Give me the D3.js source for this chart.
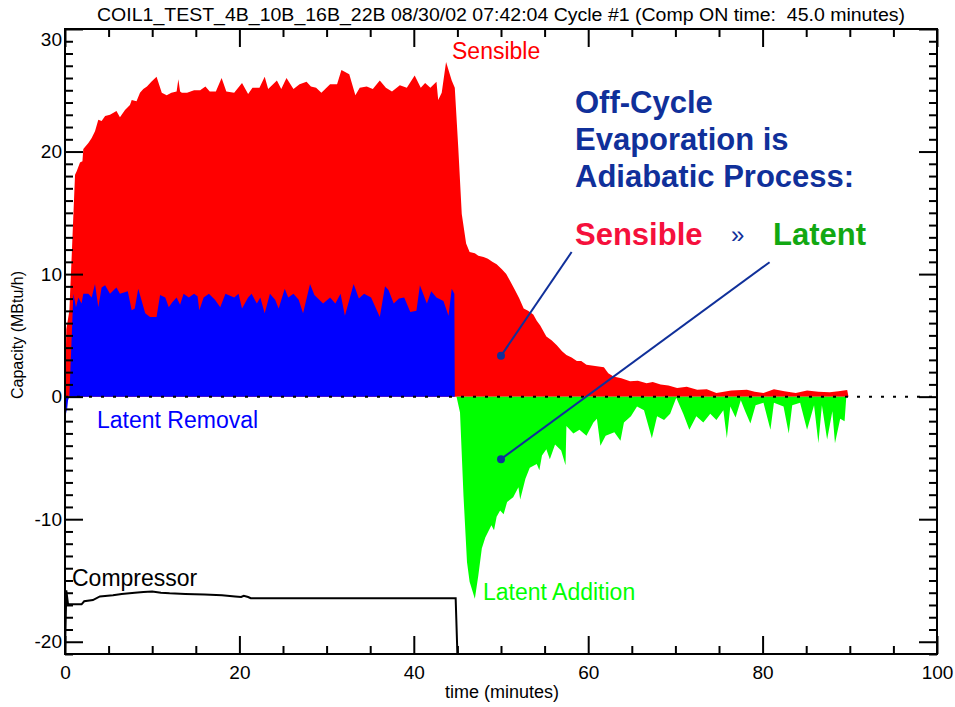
<!DOCTYPE html>
<html><head><meta charset="utf-8">
<script src="https://cdn.jsdelivr.net/npm/d3@7"></script>
<style>
html,body{margin:0;padding:0;background:#fff;}
svg{display:block;}
text{font-family:"Liberation Sans",Arial,Helvetica,sans-serif;white-space:pre;}
</style></head>
<body>
<svg id="chart" width="955" height="707"></svg>
<script>
// ---------- data ----------
const titleText = "COIL1_TEST_4B_10B_16B_22B 08/30/02 07:42:04 Cycle #1 (Comp ON time:  45.0 minutes)";
const xTicks = [0, 20, 40, 60, 80, 100];
const yTicks = [-20, -10, 0, 10, 20, 30];

// top of red area (sensible / total capacity), [minutes, MBtu/h]
const sensible = [[0,0],[0.15,5.5],[0.5,7.0],[0.8,12],[1.15,18.1],[1.34,18.4],[1.72,19.1],[2.0,19.2],[2.1,20.2],[2.68,20.7],[3.06,21.1],[3.44,21.65],[3.82,22.6],[4.2,22.5],[4.6,22.9],[5.16,23.0],[5.9,23.3],[6.3,22.8],[6.88,23.4],[7.45,23.8],[7.65,24.2],[8.2,24.1],[8.6,24.8],[8.98,25.1],[9.4,25.3],[9.9,25.7],[10.5,26.1],[11.1,24.8],[11.66,24.6],[12.2,24.8],[12.8,24.9],[13.0,25.9],[13.2,24.9],[13.4,24.8],[14.0,24.8],[14.8,25.0],[15.5,25.0],[16.1,25.3],[16.6,24.9],[17.3,24.9],[17.96,26.0],[18.5,24.9],[19.4,24.8],[20.3,25.6],[21.0,24.7],[21.5,25.2],[22.3,25.2],[22.9,26.1],[23.3,25.1],[24.3,25.8],[24.8,25.1],[25.4,26.0],[26.2,25.1],[26.9,25.5],[27.7,25.7],[28.2,25.3],[28.8,25.2],[29.4,24.8],[30.4,25.5],[31.2,25.5],[31.7,26.65],[32.6,26.3],[33.3,24.6],[33.8,25.2],[34.6,25.3],[35.3,25.1],[36.1,25.8],[36.8,25.2],[37.5,24.9],[38.4,25.4],[39.2,25.2],[40.1,26.2],[40.8,25.2],[41.3,25.6],[41.9,25.2],[42.6,25.7],[42.8,24.2],[43.2,24.8],[43.7,27.3],[44.35,25.8],[44.7,25.2],[45.1,20.3],[45.5,14.9],[46.0,12.5],[46.4,11.8],[47.0,11.7],[47.4,11.5],[48.0,11.4],[48.5,11.25],[49.0,11.0],[49.5,10.8],[50.1,10.4],[50.6,10.0],[51.0,9.5],[51.6,8.7],[52.1,8.0],[52.6,7.2],[53.1,7.0],[53.7,6.7],[54.1,6.2],[54.5,5.8],[55.2,4.9],[55.8,4.6],[56.4,4.2],[57.0,3.7],[57.5,3.4],[58.1,3.2],[58.7,2.9],[59.2,2.9],[59.8,2.6],[60.8,2.5],[61.8,2.4],[62.3,1.9],[62.9,1.65],[63.8,1.5],[64.8,1.25],[65.7,1.3],[66.7,1.1],[67.4,1.2],[68.3,1.0],[69.2,0.9],[70.2,0.7],[71.3,0.8],[72.5,0.57],[73.6,0.6],[74.7,0.3],[76.4,0.5],[78.2,0.57],[79.1,0.4],[80.1,0.3],[81.3,0.6],[82.5,0.45],[83.8,0.3],[85.1,0.5],[86.4,0.4],[87.7,0.35],[88.7,0.45],[89.7,0.55],[89.85,0]];

// latent removal while compressor ON (blue)
const latentOn = [[0,0],[0.19,-1.4],[0.35,-0.3],[0.5,0],[0.96,8.4],[1.26,7.3],[1.53,8.1],[1.9,7.6],[2.1,8.4],[2.68,8.4],[3.06,8.1],[3.44,9.2],[3.82,7.3],[4.2,8.9],[4.6,9.1],[5.16,8.4],[5.9,8.9],[6.3,8.4],[7.2,8.6],[7.65,7.05],[8.0,7.2],[8.4,8.8],[8.8,7.8],[9.2,6.8],[9.75,6.5],[10.5,6.5],[10.9,8.3],[11.5,8.1],[11.9,7.3],[12.3,7.7],[12.8,8.1],[13.2,7.5],[13.6,8.4],[14.2,8.1],[14.8,8.4],[15.2,8.2],[15.4,7.05],[15.9,8.1],[16.5,8.4],[17.2,7.9],[17.8,7.3],[18.4,8.4],[19.4,8.1],[19.9,8.4],[20.3,7.2],[21.0,8.1],[21.4,8.4],[22.0,7.6],[22.4,8.1],[22.9,6.8],[23.5,8.4],[24.1,7.9],[24.5,7.2],[25.2,8.8],[25.6,8.1],[26.2,8.4],[26.8,7.9],[27.3,6.8],[28.1,9.2],[28.6,8.3],[29.6,7.6],[30.4,8.1],[31.0,7.6],[31.6,8.4],[32.1,6.6],[33.1,9.2],[33.7,8.0],[34.3,8.4],[35.1,8.1],[35.6,7.3],[36.1,6.5],[36.7,9.0],[37.1,8.7],[37.7,7.6],[38.3,8.0],[38.9,8.1],[39.6,6.9],[40.3,7.0],[40.7,9.1],[41.5,7.6],[42.0,8.6],[42.6,8.1],[43.4,7.8],[43.98,6.6],[44.35,8.8],[44.65,8.4],[44.7,0]];

// latent addition while compressor OFF (green)
const latentOff = [[44.9,0],[45.3,-1.3],[45.7,-8.1],[46.1,-13.5],[46.4,-15.1],[47.0,-16.5],[47.4,-14.6],[47.8,-12.4],[48.2,-11.5],[48.9,-10.5],[49.2,-10.9],[49.5,-9.8],[49.9,-9.3],[50.3,-9.6],[50.7,-8.6],[51.4,-8.2],[52.0,-7.4],[52.2,-8.4],[52.8,-6.7],[53.3,-5.8],[54.1,-5.5],[54.4,-6.0],[54.7,-4.8],[55.2,-4.3],[55.6,-5.1],[56.2,-3.9],[56.9,-4.4],[57.4,-5.6],[57.5,-2.4],[58.3,-3.0],[59.0,-2.7],[59.8,-3.2],[60.6,-2.1],[61.0,-1.8],[61.4,-4.0],[62.0,-3.2],[63.0,-2.9],[63.7,-3.6],[64.1,-2.1],[64.9,-1.6],[65.6,-0.8],[66.4,-1.1],[67.3,-3.4],[67.9,-1.6],[68.7,-1.9],[69.4,-1.4],[70.1,-0.1],[70.9,-1.4],[71.6,-2.7],[72.4,-1.6],[73.2,-2.1],[74.0,-1.4],[74.7,-1.9],[75.5,-1.1],[75.9,-3.4],[76.3,-0.8],[76.9,-1.7],[77.5,-0.3],[78.0,-1.2],[78.6,-2.2],[79.2,-0.7],[80.1,-0.5],[80.9,-2.7],[81.3,-0.5],[82.4,-0.8],[83.0,-3.0],[83.4,-0.7],[84.3,-0.5],[85.1,-2.7],[85.9,-0.7],[86.4,-3.8],[86.8,-0.7],[87.4,-3.5],[88.0,-1.2],[88.3,-3.8],[88.9,-1.8],[89.4,-2.0],[89.6,0]];

// compressor trace (offset signal)
const compressor = [[0,-21],[0.15,-15.8],[0.35,-16.95],[1.9,-16.95],[2.2,-16.7],[3.2,-16.6],[4.0,-16.3],[5.5,-16.2],[6.5,-16.1],[8.0,-16.0],[9.0,-15.95],[10.0,-15.9],[11.0,-16.0],[12.0,-16.05],[13.8,-16.1],[16.0,-16.15],[18.0,-16.2],[19.5,-16.3],[20.2,-16.35],[20.5,-16.25],[21.0,-16.35],[21.3,-16.45],[44.8,-16.45],[45.0,-21]];

// annotation leader lines: [from, to-dot]
const leaders = [[[58.1,11.8],[50,3.33]], [[80.8,10.97],[50,-5.1]]];

// ---------- chart ----------
const svg = d3.select("#chart");
const x = d3.scaleLinear().domain([0,100]).range([65,937]);
const y = d3.scaleLinear().domain([-21,30]).range([654,29]);
const fmt = d => String(d);

const area = d3.area().x(d=>x(d[0])).y0(y(0)).y1(d=>y(d[1])).curve(d3.curveLinear);
svg.append("path").datum(sensible).attr("d",area).attr("fill","#ff0000");
svg.append("path").datum(latentOn).attr("d",area).attr("fill","#0000ff");
svg.append("path").datum(latentOff).attr("d",area).attr("fill","#00ff00");

// zero dotted line
svg.append("line").attr("x1",x(0)).attr("x2",x(100)).attr("y1",y(0)).attr("y2",y(0))
  .attr("stroke","#000").attr("stroke-width",2).attr("stroke-dasharray","3,9");

// compressor line
const line = d3.line().x(d=>x(d[0])).y(d=>y(d[1]));
svg.append("path").datum(compressor).attr("d",line).attr("fill","none").attr("stroke","#000").attr("stroke-width",2);

// leader lines
const navy = "#10309a";
leaders.forEach(l=>{
  svg.append("line").attr("x1",x(l[0][0])).attr("y1",y(l[0][1])).attr("x2",x(l[1][0])).attr("y2",y(l[1][1]))
    .attr("stroke",navy).attr("stroke-width",2);
  svg.append("circle").attr("cx",x(l[1][0])).attr("cy",y(l[1][1])).attr("r",4).attr("fill",navy);
});

// axes
function noDomain(g){ g.select(".domain").remove(); g.selectAll("line").attr("stroke","#000").attr("stroke-width",2); }
const minorX = d3.range(0,101,5).filter(v=>v%20!==0);
const minorY = d3.range(-21,31,1).filter(v=>v%10!==0);

svg.append("g").attr("transform",`translate(0,${y(-21)})`)
  .call(d3.axisBottom(x).tickValues(xTicks).tickSize(-18).tickPadding(8).tickFormat(fmt))
  .call(noDomain)
  .call(g=>g.selectAll("text").attr("font-size",19).attr("fill","#000").attr("dy","0.9em").attr("font-family","Liberation Sans, Arial, sans-serif"));
svg.append("g").attr("transform",`translate(0,${y(-21)})`)
  .call(d3.axisBottom(x).tickValues(minorX).tickSize(-8).tickFormat("")).call(noDomain);
svg.append("g").attr("transform",`translate(0,${y(30)})`)
  .call(d3.axisTop(x).tickValues(xTicks).tickSize(-18).tickFormat("")).call(noDomain);
svg.append("g").attr("transform",`translate(0,${y(30)})`)
  .call(d3.axisTop(x).tickValues(minorX).tickSize(-8).tickFormat("")).call(noDomain);

svg.append("g").attr("transform",`translate(${x(0)},0)`)
  .call(d3.axisLeft(y).tickValues(yTicks).tickSize(-18).tickPadding(3).tickFormat(fmt))
  .call(noDomain)
  .call(g=>g.selectAll("text").attr("font-size",19).attr("fill","#000").attr("font-family","Liberation Sans, Arial, sans-serif")
    .attr("dy",d=>d===30?"0.85em":"0.32em"));
svg.append("g").attr("transform",`translate(${x(0)},0)`)
  .call(d3.axisLeft(y).tickValues(minorY).tickSize(-8).tickFormat("")).call(noDomain);
svg.append("g").attr("transform",`translate(${x(100)},0)`)
  .call(d3.axisRight(y).tickValues(yTicks).tickSize(-18).tickFormat("")).call(noDomain);
svg.append("g").attr("transform",`translate(${x(100)},0)`)
  .call(d3.axisRight(y).tickValues(minorY).tickSize(-8).tickFormat("")).call(noDomain);

// frame
svg.append("rect").attr("x",x(0)).attr("y",y(30)).attr("width",x(100)-x(0)).attr("height",y(-21)-y(30))
  .attr("fill","none").attr("stroke","#000").attr("stroke-width",2);

// titles
svg.append("text").attr("x",501).attr("y",21).attr("text-anchor","middle").attr("font-size",18)
  .attr("textLength",808).attr("lengthAdjust","spacingAndGlyphs").attr("xml:space","preserve").text(titleText);
svg.append("text").attr("x",502).attr("y",698).attr("text-anchor","middle").attr("font-size",18).text("time (minutes)");
svg.append("text").attr("transform","translate(23,335) rotate(-90)").attr("text-anchor","middle").attr("font-size",16).text("Capacity (MBtu/h)");

// series labels
svg.append("text").attr("x",452).attr("y",59).attr("font-size",23).attr("fill","#ff0000").text("Sensible");
svg.append("text").attr("x",97).attr("y",428).attr("font-size",23).attr("fill","#0000ff").text("Latent Removal");
svg.append("text").attr("x",483).attr("y",600).attr("font-size",23).attr("fill","#00ff00").text("Latent Addition");
svg.append("text").attr("x",72).attr("y",586).attr("font-size",23).attr("fill","#000").text("Compressor");

// annotation
const ann = svg.append("g").attr("font-weight","bold").attr("font-size",31);
ann.append("text").attr("x",575).attr("y",113).attr("fill",navy).text("Off-Cycle");
ann.append("text").attr("x",575).attr("y",150).attr("fill",navy).text("Evaporation is");
ann.append("text").attr("x",575).attr("y",187).attr("fill",navy).text("Adiabatic Process:");
ann.append("text").attr("x",575).attr("y",245).attr("fill","#f5103c").text("Sensible");
ann.append("text").attr("x",731).attr("y",243).attr("fill",navy).attr("font-size",24).attr("font-weight","normal").text("»");
ann.append("text").attr("x",773).attr("y",245).attr("fill","#12a812").text("Latent");
</script>
</body></html>
